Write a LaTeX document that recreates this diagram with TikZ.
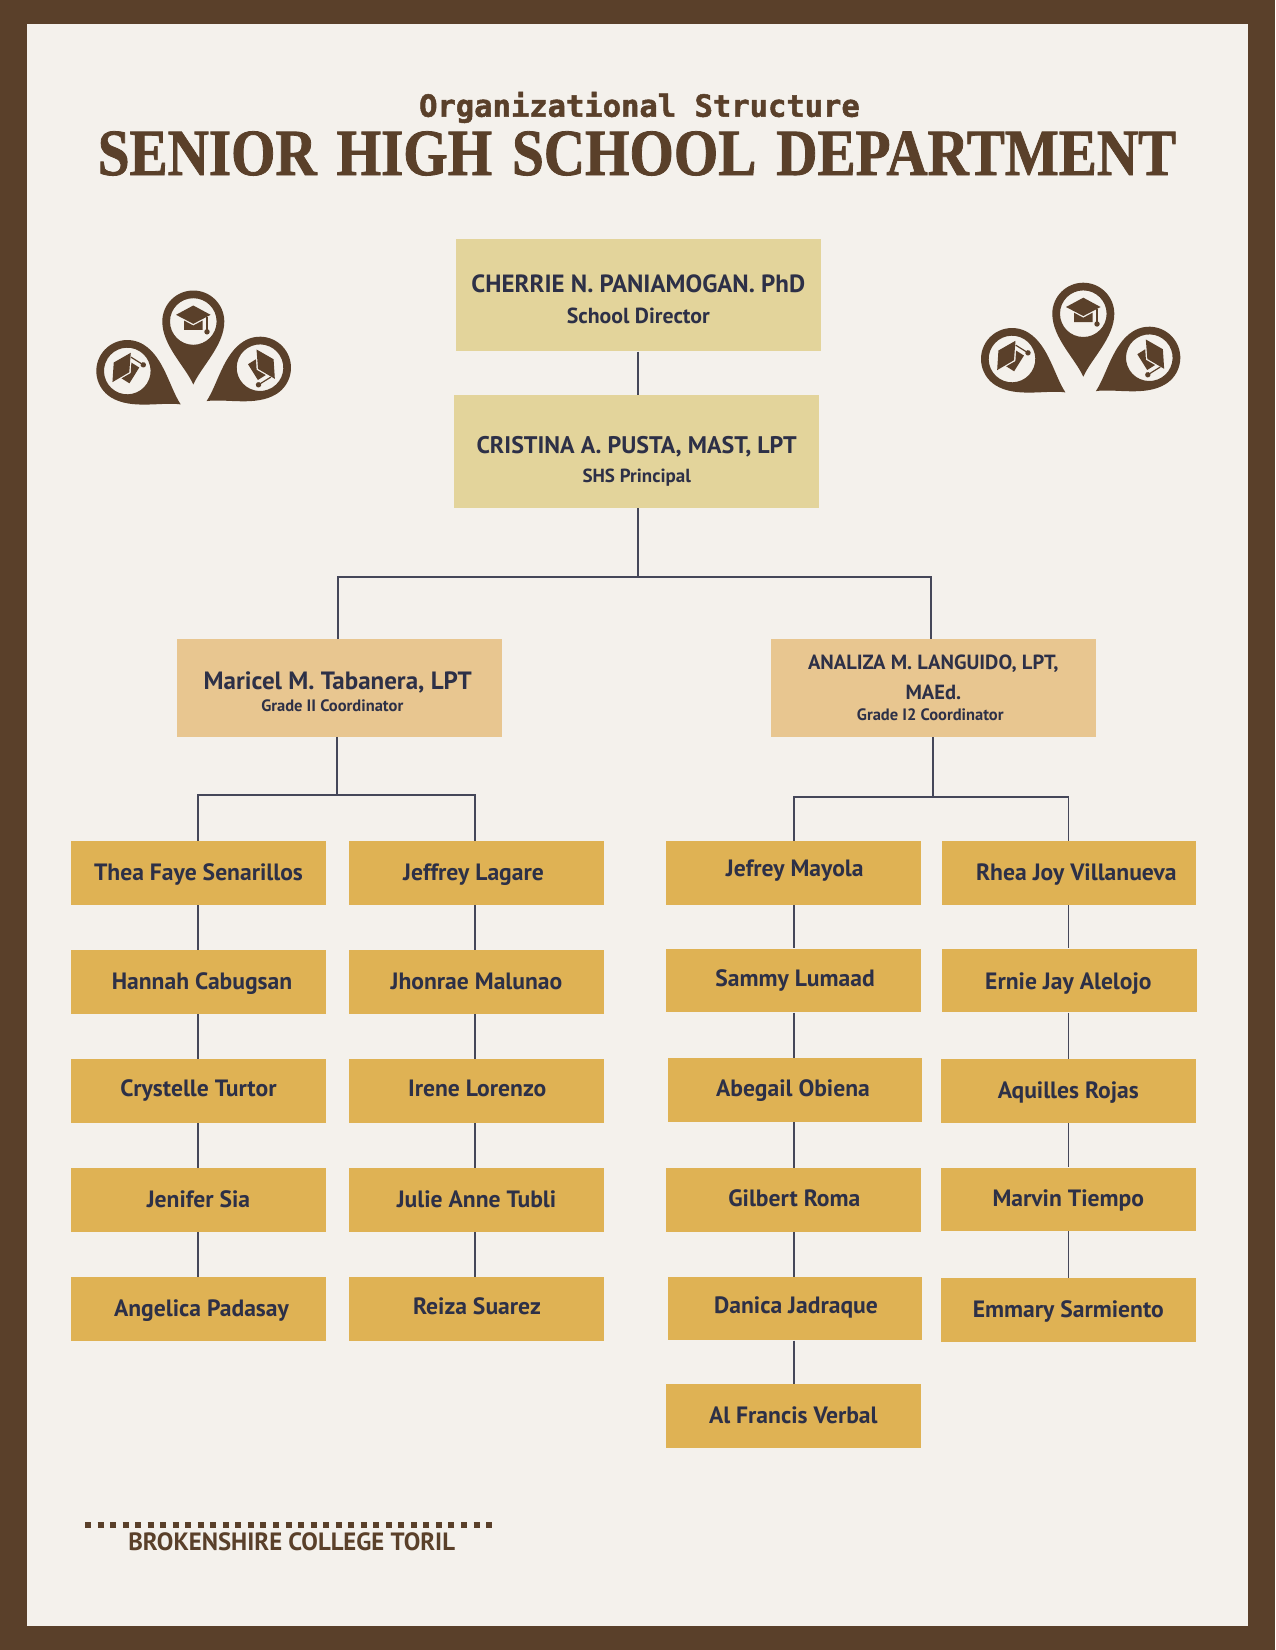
\documentclass[tikz,border=0pt]{standalone}
\usepackage{fontspec}
\setmainfont{PT Sans}
\newfontfamily\titlefont{Liberation Serif}[FakeStretch=0.865,FakeBold=1.2,WordSpace=1.4]
\newfontfamily\subtitlefont{DejaVu Sans Mono}[FakeBold=1.6]
\newfontfamily\footerfont{PT Sans}[FakeStretch=0.99]
\usepackage{tikz}
\usetikzlibrary{positioning}
\definecolor{FrameBrown}{HTML}{5A402A}
\definecolor{PaperCream}{HTML}{F4F1EC}
\definecolor{HeadSand}{HTML}{E3D49B}
\definecolor{CoordTan}{HTML}{E8C690}
\definecolor{StaffGold}{HTML}{DFB254}
\definecolor{InkNavy}{HTML}{2D3047}
\definecolor{LinkSlate}{HTML}{454759}
\newdimen\pxu
\pxu=0.75pt
\newcommand{\pxfont}[1]{\fontsize{#1\pxu}{1.15\dimexpr#1\pxu\relax}\selectfont}
\newcommand{\shifted}[3]{\hspace*{#1\pxu}\raisebox{#2\pxu}{#3}\hspace*{-#1\pxu}}
\newcommand{\topgap}[1]{\rule{0pt}{#1\pxu}}
\tikzset{
  % Director and principal boxes
  headbox/.style={
    rectangle, fill=HeadSand, inner sep=0pt,
    minimum width=365*0.75pt, minimum height=112.5*0.75pt,
    align=center, text=InkNavy, font=\bfseries\pxfont{24}
  },
  % Grade coordinator boxes
  coordbox/.style={
    rectangle, fill=CoordTan, inner sep=0pt,
    minimum width=325.3*0.75pt, minimum height=97.4*0.75pt,
    align=center, text=InkNavy, font=\bfseries\pxfont{25}
  },
  % Teacher boxes: fixed baseline
  staffbox/.style={
    rectangle, fill=StaffGold, inner sep=0pt,
    minimum width=254.6*0.75pt, minimum height=63.5*0.75pt,
    text height=16*0.75pt, text depth=2*0.75pt,
    text=InkNavy, font=\bfseries\pxfont{23.6}
  },
  % Connector
  link/.style={draw=LinkSlate, line width=1.3pt},
  % Graduation pin
  gradpin/.pic={
    \fill[FrameBrown, even odd rule]
      (0,63) .. controls (-8,45) and (-31,24) .. (-31,0)
      .. controls (-31,-17.1) and (-17.1,-31) .. (0,-31)
      .. controls (17.1,-31) and (31,-17.1) .. (31,0)
      .. controls (31,24) and (8,45) .. (0,63) -- cycle
      (0,0) circle (23.3);
    \fill[FrameBrown] (-17.3,-6.7) -- (0,-16) -- (17.3,-6.7) -- (0,2.3) -- cycle;
    \fill[FrameBrown] (-9.3,-1) -- (0,4) -- (9.3,-1) -- (9.3,8.3) -- (-9.3,8.3) -- cycle;
    \draw[FrameBrown, line width=0.9pt] (13.7,-4.3) -- (13.7,9.7);
    \fill[FrameBrown] (13.7,10.3) circle (2.7);
  }
}
\begin{document}
\begin{tikzpicture}[x=0.75pt, y=-0.75pt]

  % Frame
  \fill[FrameBrown] (0,0) rectangle (1275,1650);
  \fill[PaperCream] (26.5,24) rectangle (1247.5,1625.5);
  \useasboundingbox (0,0) rectangle (1275,1650);

  % Title
  \node[anchor=base, inner sep=0pt, text=FrameBrown, font=\subtitlefont\bfseries\pxfont{30.5}] (subtitle) at (639.5,116.7) {Organizational Structure};
  \node[anchor=base, inner sep=0pt, text=FrameBrown, font=\titlefont\bfseries\pxfont{66}] (title) at (637,175) {SENIOR HIGH SCHOOL DEPARTMENT};

  % Pins
  \pic at (193.3,321.5) {gradpin};
  \pic[rotate=58] at (127.3,371) {gradpin};
  \pic[rotate=-58] at (260,367.7) {gradpin};
  \pic at (1083.3,313.7) {gradpin};
  \pic[rotate=58] at (1012,359) {gradpin};
  \pic[rotate=-58] at (1149.3,357.7) {gradpin};

  % Heads
  \node[headbox] (director) at (638.3,295) {\topgap{27}{\pxfont{24.9}CHERRIE N. PANIAMOGAN. PhD}\\[2.5pt]{\pxfont{21.8}School Director}};
  \node[headbox] (principal) at (636.7,451.5) {\topgap{37}CRISTINA A. PUSTA, MAST, LPT\\[1pt]{\pxfont{19}SHS Principal}};

  % Coordinators
  \node[coordbox] (maricel) at (339.3,688) {\topgap{25}\shifted{-1.5}{0}{Maricel M. Tabanera, LPT}\\[-5pt]{\pxfont{16.5}\shifted{-7}{0}{Grade II Coordinator}}};
  \node[coordbox] (analiza) at (933.3,688) {\pxfont{20.5}ANALIZA M. LANGUIDO, LPT,\\[0.8pt]\pxfont{20.5}MAEd.\\[-5.4pt]{\pxfont{16.5}\shifted{-3}{0}{Grade I2 Coordinator}}};

  % Column guides for the connectors
  \coordinate (fork) at (638,577);
  \coordinate (forkl) at (338.3,577);
  \coordinate (forkr) at (930.7,577);
  \coordinate (barl) at (337.3,795);
  \coordinate (barr) at (933.3,796.7);
  \coordinate (cola) at (198.3,795);
  \coordinate (colb) at (475,795);
  \coordinate (colc) at (794,796.7);
  \coordinate (cold) at (1068.6,796.7);

  % First team
  \node[staffbox] (thea)     at (198.5,873)    {Thea Faye Senarillos};
  \node[staffbox] (hannah)   at (198.5,982)    {\shifted{3.5}{0}{Hannah Cabugsan}};
  \node[staffbox] (crystelle) at (198.5,1091)  {\shifted{0}{1.3}{Crystelle Turtor}};
  \node[staffbox] (jenifer)  at (198.5,1200)   {Jenifer Sia};
  \node[staffbox] (angelica) at (198.5,1309)   {\shifted{3}{0}{Angelica Padasay}};
  \node[staffbox] (jeffrey)  at (476.5,873)    {\shifted{-3}{0}{Jeffrey Lagare}};
  \node[staffbox] (jhonrae)  at (476.5,982)    {Jhonrae Malunao};
  \node[staffbox] (irene)    at (476.5,1091)   {\shifted{0.7}{1.3}{Irene Lorenzo}};
  \node[staffbox] (julie)    at (476.5,1200)   {Julie Anne Tubli};
  \node[staffbox] (reiza)    at (476.5,1309)   {\shifted{0.5}{2}{Reiza Suarez}};

  % Second team
  \node[staffbox] (jefrey)   at (793.3,873)    {\shifted{1.5}{3.3}{Jefrey Mayola}};
  \node[staffbox] (sammy)    at (793.3,980.5)  {\shifted{1.8}{1}{Sammy Lumaad}};
  \node[staffbox] (abegail)  at (794.8,1090)   {\shifted{-1.8}{0.5}{Abegail Obiena}};
  \node[staffbox] (gilbert)  at (793.3,1200)   {\shifted{1}{0.3}{Gilbert Roma}};
  \node[staffbox] (danica)   at (794.8,1308.7) {\shifted{1.2}{2.3}{Danica Jadraque}};
  \node[staffbox] (alfrancis) at (793.3,1416)  {Al Francis Verbal};
  \node[staffbox] (rhea)     at (1068.8,873)   {\shifted{7.5}{0}{Rhea Joy Villanueva}};
  \node[staffbox] (ernie)    at (1069.7,980.5) {\shifted{-1.3}{-1.5}{Ernie Jay Alelojo}};
  \node[staffbox] (aquilles) at (1068.3,1091)  {Aquilles Rojas};
  \node[staffbox] (marvin)   at (1068.3,1199.4) {Marvin Tiempo};
  \node[staffbox] (emmary)   at (1068.3,1310)  {Emmary Sarmiento};

  % Footer
  \coordinate (dotsa) at (85,1525);
  \coordinate (dotsb) at (492,1525);
  \draw[FrameBrown, line width=4.5pt, dash pattern=on 4.5pt off 4.9pt] (dotsa) -- (dotsb);
  \node[anchor=base west, inner sep=0pt, text=FrameBrown, font=\footerfont\bfseries\pxfont{25}] (college) at (128,1550) {BROKENSHIRE COLLEGE TORIL};

  % Top of the tree
  \draw[link] (director.south) -- (principal.north -| director.south);
  \draw[link] (principal.south -| fork) -- (fork);
  \draw[link] (maricel.north -| forkl) -- (forkl) -- (forkr) -- (analiza.north -| forkr);
  \draw[link] (maricel.south -| barl) -- (barl);
  \draw[link] (analiza.south) -- (barr);

  % Team branches
  \draw[link] (thea.north -| cola) -- (cola) -- (colb) -- (jeffrey.north -| colb);
  \draw[link] (jefrey.north -| colc) -- (colc) -- (cold) -- (rhea.north -| cold);

  % Team chains
  \draw[link] (thea.south -| cola) -- (hannah.north -| cola);
  \draw[link] (hannah.south -| cola) -- (crystelle.north -| cola);
  \draw[link] (crystelle.south -| cola) -- (jenifer.north -| cola);
  \draw[link] (jenifer.south -| cola) -- (angelica.north -| cola);
  \draw[link] (jeffrey.south -| colb) -- (jhonrae.north -| colb);
  \draw[link] (jhonrae.south -| colb) -- (irene.north -| colb);
  \draw[link] (irene.south -| colb) -- (julie.north -| colb);
  \draw[link] (julie.south -| colb) -- (reiza.north -| colb);
  \draw[link] (jefrey.south -| colc) -- (sammy.north -| colc);
  \draw[link] (sammy.south -| colc) -- (abegail.north -| colc);
  \draw[link] (abegail.south -| colc) -- (gilbert.north -| colc);
  \draw[link] (gilbert.south -| colc) -- (danica.north -| colc);
  \draw[link] (danica.south -| colc) -- (alfrancis.north -| colc);
  \draw[link] (rhea.south -| cold) -- (ernie.north -| cold);
  \draw[link] (ernie.south -| cold) -- (aquilles.north -| cold);
  \draw[link] (aquilles.south -| cold) -- (marvin.north -| cold);
  \draw[link] (marvin.south -| cold) -- (emmary.north -| cold);

\end{tikzpicture}
\end{document}
